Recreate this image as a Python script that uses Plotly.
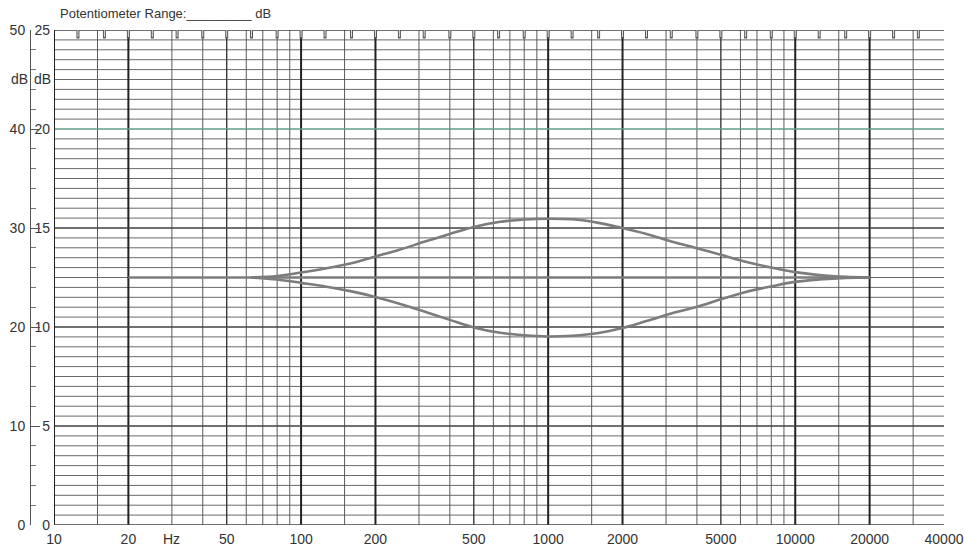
import math
import plotly.graph_objects as go

# ---------------- data ----------------
x_tick_vals = [10, 20, 50, 100, 200, 500, 1000, 2000, 5000, 10000, 20000, 40000]
x_tick_text = ["10", "20", "50", "100", "200", "500", "1000", "2000", "5000", "10000", "20000", "40000"]

grid_thin_freqs = [15, 30, 40, 60, 70, 80, 90, 150, 300, 400, 600, 700, 800, 900,
                   1500, 3000, 4000, 6000, 7000, 8000, 9000, 15000, 30000]
grid_mid_freqs = [50, 500, 5000]
grid_bold_freqs = [20, 100, 200, 1000, 2000, 10000, 20000]

third_octave_marks = [12.5, 16, 20, 25, 31.5, 40, 50, 63, 80, 100, 125, 160, 200, 250, 315,
                      400, 500, 630, 800, 1000, 1250, 1600, 2000, 2500, 3150, 4000, 5000,
                      6300, 8000, 10000, 12500, 16000, 20000, 25000, 31500]

inner_ticks = [0, 5, 10, 15, 20, 25]          # right-hand dB scale (25 dB range)
outer_ticks = [0, 10, 20, 30, 40, 50]         # left-hand dB scale (50 dB range)

flat_freq = [20, 20000]
flat_db = [12.5, 12.5]

curve_freq = [63, 80, 100, 125, 160, 200, 250, 315, 400, 500, 630, 800, 1000, 1250, 1600,
              2000, 2500, 3150, 4000, 5000, 6300, 8000, 10000, 12500, 16000, 20000]
boost_db = [12.50, 12.58, 12.75, 12.95, 13.22, 13.56, 13.90, 14.30, 14.70, 15.05, 15.30,
            15.43, 15.47, 15.44, 15.26, 15.00, 14.70, 14.32, 13.98, 13.65, 13.30, 13.00,
            12.77, 12.62, 12.53, 12.50]
cut_db = [12.50, 12.40, 12.23, 12.05, 11.80, 11.52, 11.18, 10.78, 10.36, 9.98, 9.72,
          9.58, 9.52, 9.56, 9.70, 9.95, 10.30, 10.68, 11.02, 11.40, 11.77, 12.05,
          12.28, 12.40, 12.48, 12.50]

F_MIN, F_MAX = 10, 40000
DB_MIN, DB_MAX = 0, 25

# ---------------- figure ----------------
fig = go.Figure()


def vlines(freqs):
    xs, ys = [], []
    for f in freqs:
        xs += [f, f, None]
        ys += [DB_MIN, DB_MAX, None]
    return xs, ys


def hlines(levels, x0=F_MIN, x1=F_MAX):
    xs, ys = [], []
    for v in levels:
        xs += [x0, x1, None]
        ys += [v, v, None]
    return xs, ys


minor_levels = [i * 0.5 for i in range(0, 51) if i % 10 != 0]
major_levels = [0, 5, 10, 15, 25]
green_levels = [20]

for xs_ys, color, width in [
    (hlines(minor_levels), "#6a6a6a", 1),
    (vlines(grid_thin_freqs), "#5a5a5a", 1),
    (vlines(grid_mid_freqs), "#3a3a3a", 1.4),
    (vlines(grid_bold_freqs), "#222222", 2),
    (hlines(major_levels), "#404040", 1.6),
    (hlines(green_levels), "#5f9e86", 1.6),
    (vlines([F_MIN]), "#222222", 2),
]:
    fig.add_trace(go.Scatter(x=xs_ys[0], y=xs_ys[1], mode="lines",
                             line=dict(color=color, width=width),
                             hoverinfo="skip", showlegend=False))

# 1/3-octave marks along the top edge
fig.add_trace(go.Scatter(x=third_octave_marks, y=[24.82] * len(third_octave_marks),
                         mode="markers",
                         marker=dict(symbol="line-ns", size=7, color="#555555",
                                     line=dict(color="#555555", width=3)),
                         hoverinfo="skip", showlegend=False))
fig.add_trace(go.Scatter(x=third_octave_marks, y=[24.82] * len(third_octave_marks),
                         mode="markers",
                         marker=dict(symbol="line-ns", size=5, color="#dddddd",
                                     line=dict(color="#dddddd", width=1)),
                         hoverinfo="skip", showlegend=False))

# response curves
curve_style = dict(color="#7c7c7c", width=2.6)
fig.add_trace(go.Scatter(x=flat_freq, y=flat_db, mode="lines", line=curve_style, showlegend=False))
fig.add_trace(go.Scatter(x=curve_freq, y=boost_db, mode="lines",
                         line=dict(shape="spline", smoothing=1, **curve_style), showlegend=False))
fig.add_trace(go.Scatter(x=curve_freq, y=cut_db, mode="lines",
                         line=dict(shape="spline", smoothing=1, **curve_style), showlegend=False))

# invisible trace to activate the outer 50 dB scale
fig.add_trace(go.Scatter(x=[F_MIN], y=[0], yaxis="y2", mode="markers",
                         marker=dict(opacity=0), hoverinfo="skip", showlegend=False))

W, H = 964, 553
ML, MR, MT, MB = 10, 20, 30, 28
plot_w = W - ML - MR
x_start = (54 - ML) / plot_w
y2_pos = (30 - ML) / plot_w

font = dict(family="Liberation Sans, Arial, sans-serif", size=14, color="#333333")

fig.update_layout(
    width=W, height=H,
    margin=dict(l=ML, r=MR, t=MT, b=MB, autoexpand=False),
    paper_bgcolor="white", plot_bgcolor="white",
    font=font,
    xaxis=dict(type="log", range=[math.log10(F_MIN), math.log10(F_MAX)],
               domain=[x_start, 1], automargin=False,
               tickvals=x_tick_vals, ticktext=x_tick_text,
               showgrid=False, zeroline=False, showline=False, ticks="",
               ticklabelstandoff=4, tickfont=font),
    yaxis=dict(range=[DB_MIN, DB_MAX], tickvals=inner_ticks, automargin=False,
               ticktext=[str(v) for v in inner_ticks],
               showgrid=False, zeroline=False, showline=False, ticks="",
               ticklabelstandoff=3, tickfont=font),
    yaxis2=dict(range=[0, 50], overlaying="y", anchor="free", position=y2_pos,
                side="left", tickvals=outer_ticks, automargin=False,
                ticktext=[str(v) for v in outer_ticks],
                showgrid=False, zeroline=False,
                showline=True, linecolor="#555555", linewidth=1,
                ticks="inside", ticklen=9, tickcolor="#555555", tickwidth=1,
                minor=dict(dtick=2, ticks="inside", ticklen=5, tickcolor="#777777",
                           showgrid=False),
                ticklabelstandoff=2, tickfont=font),
    annotations=[
        dict(text="Potentiometer Range:_________ dB", xref="paper", yref="paper",
             x=(58 - ML) / plot_w, y=1, xanchor="left", yanchor="bottom", yshift=7,
             showarrow=False, font=dict(family="Liberation Sans, Arial, sans-serif",
                                        size=13, color="#333333")),
        dict(text="dB", xref="paper", yref="paper", x=(19 - ML) / plot_w, y=0.9,
             xanchor="center", yanchor="middle", showarrow=False, font=font),
        dict(text="dB", xref="paper", yref="paper", x=(42 - ML) / plot_w, y=0.9,
             xanchor="center", yanchor="middle", showarrow=False, font=font),
        dict(text="Hz", xref="x", yref="paper", x=math.log10(30), y=0,
             xanchor="center", yanchor="top", yshift=-4, showarrow=False, font=font),
    ],
)

fig.write_html("out.html")
